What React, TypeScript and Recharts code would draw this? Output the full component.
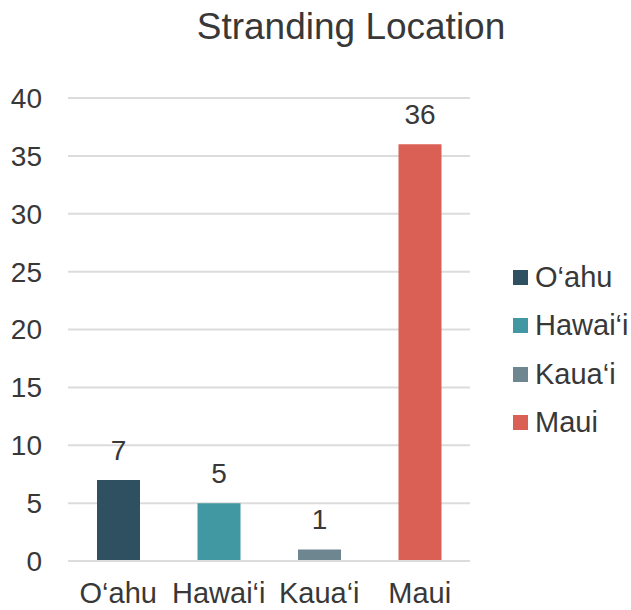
import { BarChart, Bar, XAxis, YAxis, CartesianGrid, Cell, LabelList, Legend } from 'recharts';

const islands = ['O‘ahu', 'Hawai‘i', 'Kaua‘i', 'Maui'];
const strandings = [7, 5, 1, 36];
const colors = ['#2F5061', '#4298A2', '#6E868F', '#DA5F55'];
const yTicks = [0, 5, 10, 15, 20, 25, 30, 35, 40];

const data = islands.map((name, i) => ({ name, value: strandings[i] }));

const font = '"Liberation Sans", Arial, sans-serif';
const textColor = '#383838';

function IslandLegend() {
  return (
    <div style={{ fontFamily: font }}>
      {islands.map((name, i) => (
        <div key={name} style={{ display: 'flex', alignItems: 'center', height: 48.5 }}>
          <span style={{ width: 15, height: 15, background: colors[i], display: 'inline-block', marginRight: 7 }} />
          <span style={{ fontSize: 29, color: textColor }}>{name}</span>
        </div>
      ))}
    </div>
  );
}

export default function App() {
  return (
    <div style={{ position: 'absolute', left: 0, top: 0, width: 631, height: 610, background: '#fff', fontFamily: font }}>
      <div
        style={{
          position: 'absolute',
          left: 151,
          top: 8,
          width: 400,
          textAlign: 'center',
          fontSize: 37,
          lineHeight: '37px',
          color: textColor,
        }}
      >
        Stranding Location
      </div>
      <BarChart
        width={631}
        height={610}
        data={data}
        margin={{ top: 98, right: 43, left: 0, bottom: 0 }}
      >
        <CartesianGrid vertical={false} stroke="#dcdcdc" strokeWidth={2} />
        <XAxis
          dataKey="name"
          height={49}
          tickLine={false}
          axisLine={{ stroke: '#dcdcdc', strokeWidth: 2 }}
          tickSize={0}
          tickMargin={21}
          interval={0}
          tick={{ fontSize: 29, fill: textColor, fontFamily: font }}
        />
        <YAxis
          width={68}
          domain={[0, 40]}
          ticks={yTicks}
          tickLine={false}
          axisLine={false}
          tickSize={0}
          tickMargin={26}
          tick={{ fontSize: 28, fill: textColor, fontFamily: font }}
        />
        <Legend
          layout="vertical"
          align="right"
          verticalAlign="middle"
          width={118}
          content={() => <IslandLegend />}
          wrapperStyle={{ position: 'absolute', left: 513, top: 253, width: 118 }}
        />
        <Bar dataKey="value" barSize={43} isAnimationActive={false}>
          {data.map((d, i) => (
            <Cell key={d.name} fill={colors[i]} />
          ))}
          <LabelList dataKey="value" position="top" offset={20} fill={textColor} fontSize={28} fontFamily={font} />
        </Bar>
      </BarChart>
    </div>
  );
}
